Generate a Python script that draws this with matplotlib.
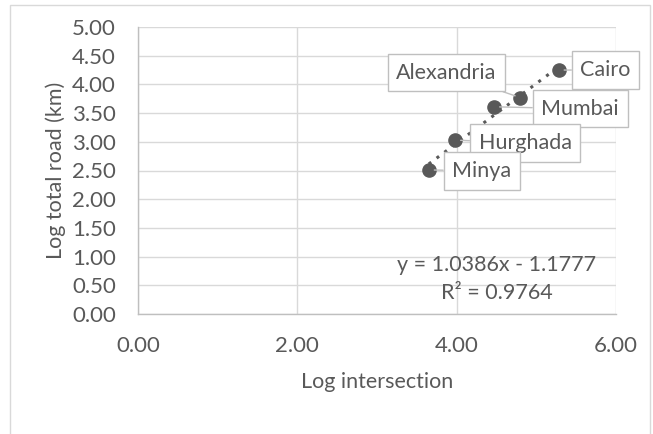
import matplotlib
matplotlib.use("Agg")
import matplotlib.pyplot as plt
from matplotlib.patches import Rectangle

# ---------------------------------------------------------------------------
# Data
# ---------------------------------------------------------------------------
cities = ["Cairo", "Alexandria", "Mumbai", "Hurghada", "Minya"]
log_intersection = [5.28, 4.80, 4.47, 3.98, 3.65]
log_total_road = [4.25, 3.77, 3.61, 3.03, 2.51]

trend_slope = 1.0386
trend_intercept = -1.1777
trend_r2 = 0.9764

x_ticks = [0.0, 2.0, 4.0, 6.0]
y_ticks = [0.0, 0.5, 1.0, 1.5, 2.0, 2.5, 3.0, 3.5, 4.0, 4.5, 5.0]

# label box offsets from each point (pixels)
label_offsets = {
    "Cairo": (47, 0),
    "Alexandria": (-74, 25),
    "Mumbai": (86, -2),
    "Hurghada": (70, -3),
    "Minya": (53, -1),
}

TEXT = "#595959"
GRID = "#D9D9D9"
MARK = "#595959"
FONT = "Lato"
FS = 15.5

plt.rcParams["font.family"] = [FONT, "DejaVu Sans"]

fig = plt.figure(figsize=(6.53, 4.34), dpi=100)
ax = fig.add_axes([138 / 653, 1 - 314 / 434, 478 / 653, 287 / 434])

# outer chart-area border
fig.patches.append(Rectangle((10 / 653, -0.05), 640 / 653, 1 - 5 / 434 + 0.05,
                             transform=fig.transFigure, fill=False,
                             edgecolor=GRID, linewidth=1.0))

ax.set_xlim(0, 6)
ax.set_ylim(0, 5)
ax.set_xticks(x_ticks)
ax.set_yticks(y_ticks)
ax.set_xticklabels([f"{v:.2f}" for v in x_ticks])
ax.set_yticklabels([f"{v:.2f}" for v in y_ticks])
ax.tick_params(length=0, colors=TEXT, labelsize=16)
ax.tick_params(axis="x", pad=16)
ax.tick_params(axis="y", pad=16)
ax.grid(True, color=GRID, linewidth=1.0)
ax.set_axisbelow(True)
for side in ("top", "right"):
    ax.spines[side].set_visible(False)
for side in ("left", "bottom"):
    ax.spines[side].set_color("#BFBFBF")
    ax.spines[side].set_linewidth(1.0)

ax.set_xlabel("Log intersection", color=TEXT, fontsize=15.5, labelpad=11)
ax.set_ylabel("Log total road (km)", color=TEXT, fontsize=15.5, labelpad=4)

# trend line (dotted)
x0, x1 = min(log_intersection), max(log_intersection)
ax.plot([x0, x1], [trend_slope * x0 + trend_intercept, trend_slope * x1 + trend_intercept],
        linestyle=(0, (1, 2.2)), color=MARK, linewidth=2.2, zorder=3)

ax.scatter(log_intersection, log_total_road, s=90, color=MARK, zorder=4)

for name, x, y in zip(cities, log_intersection, log_total_road):
    dx, dy = label_offsets[name]
    ax.annotate(name, (x, y), xytext=(dx, dy), textcoords="offset pixels",
                ha="center", va="center", fontsize=FS, color=TEXT, zorder=5,
                bbox=dict(boxstyle="square,pad=0.4", facecolor="white",
                          edgecolor="#BFBFBF", linewidth=1.0),
                arrowprops=dict(arrowstyle="-", color="#BFBFBF", linewidth=1.0,
                                shrinkA=0, shrinkB=4))

ax.text(0.751, 0.171, f"y = {trend_slope:.4f}x - {abs(trend_intercept):.4f}",
        transform=ax.transAxes, ha="center", va="center", fontsize=FS, color=TEXT)
ax.text(0.751, 0.073, f"R² = {trend_r2:.4f}",
        transform=ax.transAxes, ha="center", va="center", fontsize=FS, color=TEXT)

fig.savefig("out.png", dpi=100)
